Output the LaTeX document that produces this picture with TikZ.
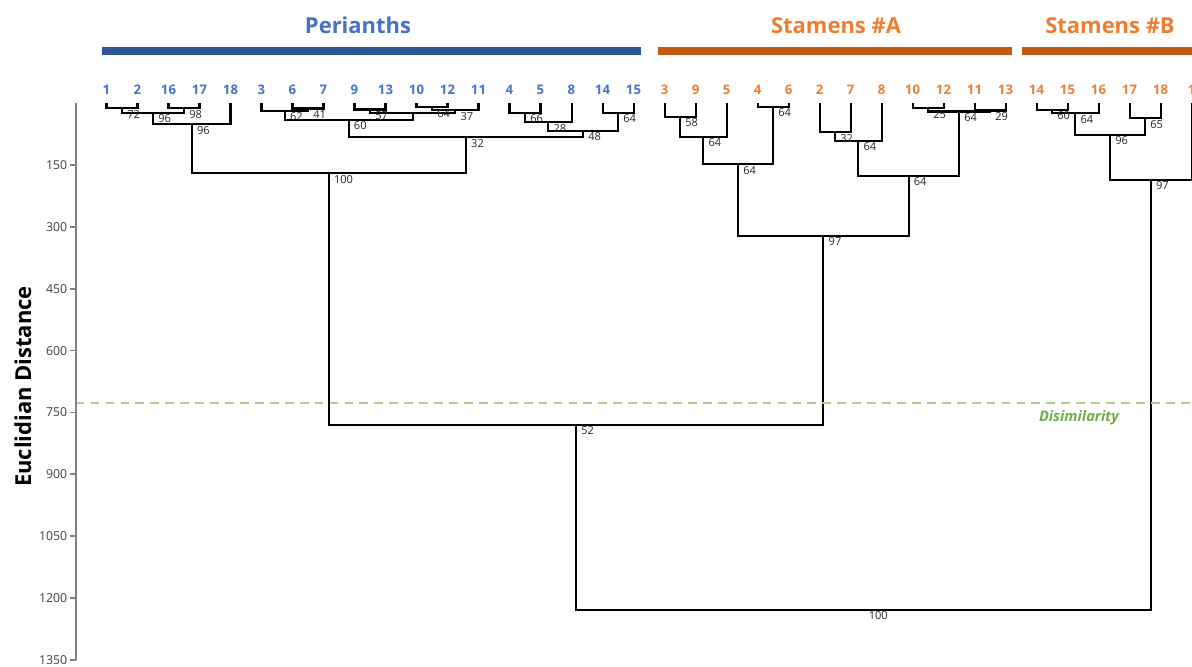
\documentclass[tikz,border=0pt]{standalone}
\usepackage{fontspec}
\setmainfont{Open Sans}
\usetikzlibrary{positioning}
\definecolor{leafblue}{HTML}{4472C4}
\definecolor{barblue}{HTML}{2F5597}
\definecolor{leaforange}{HTML}{ED7D31}
\definecolor{barorange}{HTML}{C55A11}
\definecolor{cutgreen}{HTML}{A9D18E}
\definecolor{textgreen}{HTML}{70AD47}
\definecolor{axisgray}{HTML}{7F7F7F}

\begin{document}
\begin{tikzpicture}[x=0.02cm,y=-0.02cm,
  branch/.style={draw=black,line width=1.15pt},
  boot/.style={anchor=north west,inner sep=0pt,xshift=2.8pt,yshift=-0.9pt,font=\fontsize{6.3}{7}\selectfont,text=black!85},
  pleaf/.style={inner sep=0pt,font=\fontsize{7.5}{9}\selectfont\bfseries,text=leafblue},
  aleaf/.style={inner sep=0pt,font=\fontsize{7.5}{9}\selectfont\bfseries,text=leaforange},
  grouptitle/.style={anchor=base,inner sep=0pt,font=\fontsize{12.5}{14}\selectfont\bfseries},
  axtick/.style={draw=axisgray,line width=1pt}]
\useasboundingbox (0,0) rectangle (1192,666);
\clip (0,0) rectangle (1192,666);

% group titles and bars
\node[grouptitle,text=leafblue] (tP) at (358,33) {Perianths};
\node[grouptitle,text=leaforange] (tA) at (836,33) {Stamens \#A};
\node[grouptitle,text=leaforange] (tB) at (1110,33) {Stamens \#B};
\draw[barblue,line width=4.4pt] (101.7,51.2) -- (641,51.2);
\draw[barorange,line width=4.4pt] (658.3,51.2) -- (1011.7,51.2);
\draw[barorange,line width=4.4pt] (1021.7,51.2) -- (1200,51.2);

% leaves
\foreach \lab [count=\k from 0] in {1,2,16,17,18,3,6,7,9,13,10,12,11,4,5,8,14,15}{
  \coordinate (p\lab) at (106.5+31*\k,103);
  \node[pleaf] (lp\lab) at (106.5+31*\k,90) {\lab};
}
\foreach \lab [count=\k from 18] in {3,9,5,4,6,2,7,8,10,12,11,13}{
  \coordinate (a\lab) at (106.5+31*\k,103);
  \node[aleaf] (la\lab) at (106.5+31*\k,90) {\lab};
}
\foreach \lab [count=\k from 30] in {14,15,16,17,18,1}{
  \coordinate (b\lab) at (106.5+31*\k,103);
  \node[aleaf] (lb\lab) at (106.5+31*\k,90) {\lab};
}

% perianths clusters
\coordinate (pA) at (122,108.3);
\coordinate (pB) at (184,108.3);
\coordinate (pC) at (153,113);
\coordinate (pD) at (191.75,124.3);
\coordinate (pE) at (308,108.5);
\coordinate (pF) at (284.75,111);
\coordinate (pG) at (370,109.5);
\coordinate (pH) at (432,107.3);
\coordinate (pI) at (455.25,110.2);
\coordinate (pJ) at (412.6,113);
\coordinate (pK) at (348.7,120);
\coordinate (pL) at (525,112.7);
\coordinate (pM) at (548.25,122.3);
\coordinate (pN) at (618,112.7);
\coordinate (pO) at (583.1,130.7);
\coordinate (pP) at (465.9,137.3);
\coordinate (pQ) at (328.8,173.3);
\draw[branch] (p1) |- (pA) -| (p2);
\draw[branch] (p16) |- (pB) -| (p17);
\draw[branch] (pA) |- (pC) -| (pB);
\draw[branch] (pC) |- (pD) -| (p18);
\draw[branch] (p6) |- (pE) -| (p7);
\draw[branch] (p3) |- (pF) -| (pE);
\draw[branch] (p9) |- (pG) -| (p13);
\draw[branch] (p10) |- (pH) -| (p12);
\draw[branch] (pH) |- (pI) -| (p11);
\draw[branch] (pG) |- (pJ) -| (pI);
\draw[branch] (pF) |- (pK) -| (pJ);
\draw[branch] (p4) |- (pL) -| (p5);
\draw[branch] (pL) |- (pM) -| (p8);
\draw[branch] (p14) |- (pN) -| (p15);
\draw[branch] (pM) |- (pO) -| (pN);
\draw[branch] (pK) |- (pP) -| (pO);
\draw[branch] (pD) |- (pQ) -| (pP);
\node[boot] at (pA) {72};
\node[boot] at (pB) {98};
\node[boot] at (pC) {96};
\node[boot] at (pD) {96};
\node[boot] at (pE) {41};
\node[boot] at (pF) {62};
\node[boot] at (pG) {57};
\node[boot] at (pH) {64};
\node[boot] at (pI) {37};
\node[boot] at (pK) {60};
\node[boot] at (pL) {66};
\node[boot] at (pM) {28};
\node[boot] at (pN) {64};
\node[boot] at (pO) {48};
\node[boot] at (pP) {32};
\node[boot] at (pQ) {100};

% stamens #A clusters
\coordinate (aA) at (680,116.7);
\coordinate (aB) at (703.25,136.7);
\coordinate (aC) at (773,106.7);
\coordinate (aD) at (738.1,164.3);
\coordinate (aE) at (835,132.3);
\coordinate (aF) at (858.25,140.7);
\coordinate (aG) at (928,108.3);
\coordinate (aH) at (990,110.5);
\coordinate (aI) at (959,111.5);
\coordinate (aJ) at (908.6,175.7);
\coordinate (aK) at (823.4,236);
\draw[branch] (a3) |- (aA) -| (a9);
\draw[branch] (aA) |- (aB) -| (a5);
\draw[branch] (a4) |- (aC) -| (a6);
\draw[branch] (aB) |- (aD) -| (aC);
\draw[branch] (a2) |- (aE) -| (a7);
\draw[branch] (aE) |- (aF) -| (a8);
\draw[branch] (a10) |- (aG) -| (a12);
\draw[branch] (a11) |- (aH) -| (a13);
\draw[branch] (aG) |- (aI) -| (aH);
\draw[branch] (aF) |- (aJ) -| (aI);
\draw[branch] (aD) |- (aK) -| (aJ);
\node[boot] at (aA) {58};
\node[boot] at (aB) {64};
\node[boot] at (aC) {64};
\node[boot] at (aD) {64};
\node[boot] at (aE) {32};
\node[boot] at (aF) {64};
\node[boot] at (aG) {25};
\node[boot] at (aH) {29};
\node[boot] at (aI) {64};
\node[boot] at (aJ) {64};
\node[boot] at (aK) {97};

% stamens #B clusters
\coordinate (bA) at (1052,110);
\coordinate (bB) at (1075.25,113.3);
\coordinate (bC) at (1145,118.3);
\coordinate (bD) at (1110.1,135);
\coordinate (bE) at (1150.8,180);
\draw[branch] (b14) |- (bA) -| (b15);
\draw[branch] (bA) |- (bB) -| (b16);
\draw[branch] (b17) |- (bC) -| (b18);
\draw[branch] (bB) |- (bD) -| (bC);
\draw[branch] (bD) |- (bE) -| (b1);
\node[boot] at (bA) {60};
\node[boot] at (bB) {64};
\node[boot] at (bC) {65};
\node[boot] at (bD) {96};
\node[boot] at (bE) {97};

% top joins
\coordinate (rA) at (576.1,425);
\coordinate (rB) at (863.5,610);
\draw[branch] (pQ) |- (rA) -| (aK);
\draw[branch] (rA) |- (rB) -| (bE);
\node[boot] at (rA) {52};
\node[boot] at (rB) {100};

% cut line
\draw[cutgreen,dashed,line width=0.9pt,dash pattern=on 5pt off 3.5pt] (75.7,403) -- (1192,403);
\node[font=\fontsize{8.3}{10}\selectfont\bfseries\itshape,text=textgreen] (cut) at (1079,418) {Disimilarity};

% axis
\draw[axtick] (75.7,103) -- (75.7,660);
\foreach \d in {150,300,...,1350}{
  \draw[axtick] (69.5,103.1+0.4125*\d) -- (75.7,103.1+0.4125*\d);
  \node[anchor=east,inner sep=0pt,font=\fontsize{7}{8}\selectfont,text=black!75] at (67.5,103.1+0.4125*\d) {\d};
}
\node[rotate=90,font=\fontsize{12.5}{14}\selectfont\bfseries] (ylab) at (23,386.5) {Euclidian Distance};

\end{tikzpicture}
\end{document}
